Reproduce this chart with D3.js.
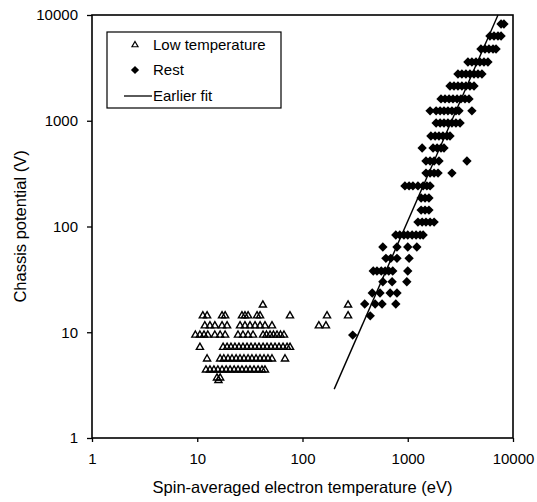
<!DOCTYPE html>
<html>
<head>
<meta charset="utf-8">
<script src="https://cdn.jsdelivr.net/npm/d3@7"></script>
<style>
  body { margin: 0; background: #fff; }
  text { font-family: "Liberation Sans", Arial, sans-serif; fill: #000; }
</style>
</head>
<body>
<script>
// values
var xTicks = [1, 10, 100, 1000, 10000];
var yTicks = [1, 10, 100, 1000, 10000];

// low temperature points, one list of temperatures per potential level
var lowLevels = [18.1, 14.3, 11.5, 9.4, 7.2, 5.6, 4.4, 3.7, 3.5];
var lowTemps = [
  [42, 271],
  [11.3, 12.4, 17.2, 18.4, 26.6, 28.4, 30.4, 37, 39.5, 76, 171, 271],
  [11.8, 13.2, 14.7, 17.2, 19.2, 25.5, 28.4, 31.7, 35.4, 39.5, 44, 51.3, 143, 167],
  [9.6, 10.6, 11.6, 12.6, 14.7, 16.5, 18.4, 24.4, 27.2, 30.4, 33.9, 42.2, 45.5, 49.2, 53, 57.3, 61.8, 66.7],
  [10.6, 17.6, 19.2, 20.9, 22.8, 24.9, 27.2, 29.7, 32.4, 35.4, 38.6, 42.2, 46, 50.2, 54.8, 59.8, 65.3, 71.3, 76.1],
  [12.4, 16.5, 17.9, 19.6, 21.4, 23.4, 25.5, 27.8, 30.4, 33.1, 36.2, 39.5, 43.1, 47, 51.3, 68.2],
  [12.1, 13.2, 14.4, 15.7, 17.2, 18.8, 20.5, 22.4, 24.4, 26.6, 29.1, 31.7, 34.6, 37.8, 41.2, 44],
  [15.4, 16.5],
  [15.9]
];

// the rest, same layout
var restLevels = [8220, 6330, 4770, 3590, 2770, 2130, 1610, 1240, 952, 718, 552, 416, 320,
  242, 186, 143, 110, 83, 64, 50, 38, 30, 23.5, 18.5, 14.3, 9.4];
var restTemps = [
  [7700, 8200],
  [6040, 6600, 7200, 7700],
  [4960, 5420, 5910, 6460, 6900],
  [3730, 4070, 4450, 4850, 5300, 5780],
  [3000, 3270, 3570, 3900, 4260, 4650, 5070],
  [2520, 2750, 3000, 3270, 3570, 3900, 4260],
  [2070, 2260, 2470, 2690, 2940, 3200, 3500, 3820],
  [1630, 1860, 2030, 2210, 2410, 2630, 2870, 3070, 4070],
  [1860, 2030, 2210, 2410, 2630, 2870, 3140],
  [1660, 1820, 1980, 2160, 2360, 2520],
  [1370, 1740, 1900, 2070, 2210],
  [1490, 1630, 1780, 1980, 3650],
  [1490, 1630, 1780, 1940, 2630],
  [940, 1030, 1120, 1250, 1400, 1520, 1630],
  [1340, 1460, 1590],
  [1340, 1460, 1590],
  [1250, 1370, 1490, 1630, 1780],
  [770, 840, 920, 1000, 1100, 1200, 1310, 1400],
  [580, 790, 1000, 1220],
  [620, 690, 790, 1030],
  [470, 510, 560, 610, 660, 720, 1000],
  [580, 710, 980],
  [460, 545, 680, 790],
  [390, 490, 570, 770],
  [440],
  [300]
];

// earlier fit, straight line in log-log between two ends
var fitT = [200, 7200];
var fitV = [2.9, 10000];

var legendLabels = ["Low temperature", "Rest", "Earlier fit"];

var width = 537, height = 502;
var margin = {top: 15, right: 24, bottom: 64, left: 92};

var svg = d3.select("body").append("svg")
  .attr("width", width)
  .attr("height", height);

var x = d3.scaleLog().domain([1, 10000]).range([margin.left, width - margin.right]);
var y = d3.scaleLog().domain([1, 10000]).range([height - margin.bottom, margin.top]);

function flatten(levels, temps) {
  var pts = [];
  levels.forEach(function(v, i) {
    temps[i].forEach(function(t) { pts.push({t: t, v: v}); });
  });
  return pts;
}
var lowPts = flatten(lowLevels, lowTemps);
var restPts = flatten(restLevels, restTemps);

var tri = d3.symbol().type(d3.symbolTriangle).size(22);
var dia = d3.symbol().type(d3.symbolSquare).size(44);

// axes
svg.append("g")
  .attr("transform", "translate(0," + y(1) + ")")
  .call(d3.axisBottom(x).tickValues(xTicks).tickFormat(d3.format("d")).tickSize(4).tickSizeOuter(0).tickPadding(11))
  .call(function(g) {
    g.select(".domain").remove();
    g.selectAll("line").attr("stroke", "#000").attr("stroke-width", 1.3);
    g.selectAll("text").style("font-size", "15px").attr("fill", "#000");
  });

svg.append("g")
  .attr("transform", "translate(" + x(1) + ",0)")
  .call(d3.axisLeft(y).tickValues(yTicks).tickFormat(d3.format("d")).tickSize(5).tickSizeOuter(0).tickPadding(9))
  .call(function(g) {
    g.select(".domain").remove();
    g.selectAll("line").attr("stroke", "#000").attr("stroke-width", 1.3);
    g.selectAll("text").style("font-size", "15px").attr("fill", "#000");
  });

// frame
svg.append("rect")
  .attr("x", x(1)).attr("y", y(10000))
  .attr("width", x(10000) - x(1))
  .attr("height", y(1) - y(10000))
  .attr("fill", "none")
  .attr("stroke", "#000")
  .attr("stroke-width", 1.6);

var plot = svg.append("g");

plot.selectAll(".low")
  .data(lowPts)
  .enter().append("path")
  .attr("class", "low")
  .attr("transform", function(d) { return "translate(" + x(d.t) + "," + y(d.v) + ")"; })
  .attr("d", tri)
  .attr("fill", "none")
  .attr("stroke", "#000")
  .attr("stroke-width", 1.4);

plot.selectAll(".rest")
  .data(restPts)
  .enter().append("path")
  .attr("class", "rest")
  .attr("transform", function(d) { return "translate(" + x(d.t) + "," + y(d.v) + ") rotate(45)"; })
  .attr("d", dia)
  .attr("fill", "#000");

var line = d3.line()
  .x(function(d, i) { return x(fitT[i]); })
  .y(function(d, i) { return y(fitV[i]); });

plot.append("path")
  .datum(fitT)
  .attr("d", line)
  .attr("fill", "none")
  .attr("stroke", "#000")
  .attr("stroke-width", 1.4);

// axis titles
svg.append("text")
  .attr("x", (x(1) + x(10000)) / 2)
  .attr("y", 493)
  .attr("text-anchor", "middle")
  .style("font-size", "16.5px")
  .text("Spin-averaged electron temperature (eV)");

svg.append("text")
  .attr("transform", "rotate(-90)")
  .attr("x", -(y(1) + y(10000)) / 2)
  .attr("y", 26)
  .attr("text-anchor", "middle")
  .style("font-size", "16.5px")
  .text("Chassis potential (V)");

// legend
var legend = svg.append("g");
legend.append("rect")
  .attr("x", 107).attr("y", 32)
  .attr("width", 174).attr("height", 76)
  .attr("fill", "#fff")
  .attr("stroke", "#000")
  .attr("stroke-width", 1.2);

var rows = [45, 70, 96];
legend.append("path")
  .attr("transform", "translate(135," + rows[0] + ")")
  .attr("d", d3.symbol().type(d3.symbolTriangle).size(16))
  .attr("fill", "none").attr("stroke", "#000").attr("stroke-width", 1.2);
legend.append("path")
  .attr("transform", "translate(135," + rows[1] + ") rotate(45)")
  .attr("d", d3.symbol().type(d3.symbolSquare).size(34))
  .attr("fill", "#000");
legend.append("line")
  .attr("x1", 124).attr("x2", 152)
  .attr("y1", rows[2]).attr("y2", rows[2])
  .attr("stroke", "#000").attr("stroke-width", 1.3);

legend.selectAll(".lab")
  .data(legendLabels)
  .enter().append("text")
  .attr("class", "lab")
  .attr("x", 153)
  .attr("y", function(d, i) { return rows[i]; })
  .attr("dy", "0.35em")
  .style("font-size", "15px")
  .text(function(d) { return d; });
</script>
</body>
</html>
